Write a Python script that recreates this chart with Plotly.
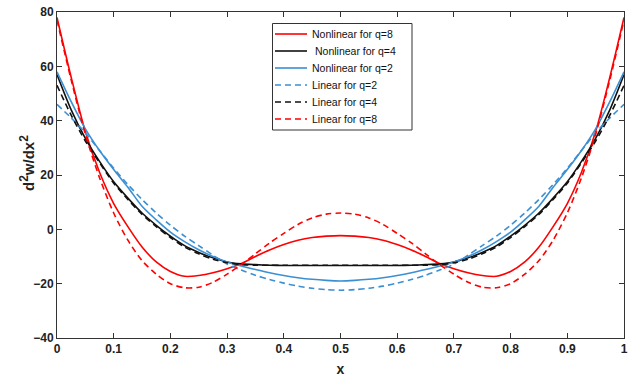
import plotly.graph_objects as go

x = [0, 0.025, 0.05, 0.075, 0.1, 0.125, 0.15, 0.175, 0.2, 0.225, 0.25, 0.275, 0.3, 0.325, 0.35, 0.375, 0.4, 0.425, 0.45, 0.475, 0.5,
     0.525, 0.55, 0.575, 0.6, 0.625, 0.65, 0.675, 0.7, 0.725, 0.75, 0.775, 0.8, 0.825, 0.85, 0.875, 0.9, 0.925, 0.95, 0.975, 1]

nl_q8 = [78, 56, 36, 21, 9.5, 1, -6.5, -12, -15.5, -17.3, -17, -16, -14.5, -12.6, -10, -7.6, -5.6, -4, -3, -2.5, -2.3,
         -2.5, -3, -4, -5.6, -7.6, -10, -12.6, -14.5, -16, -17, -17.3, -15.5, -12, -6.5, 1, 9.5, 21, 36, 56, 78]
nl_q4 = [57, 44, 33.5, 25, 17.5, 11.5, 6, 1.5, -2.5, -6, -8.5, -10.5, -12, -12.7, -13, -13.2, -13.3, -13.3, -13.3, -13.3, -13.3,
         -13.3, -13.3, -13.3, -13.3, -13.2, -13, -12.7, -12, -10.5, -8.5, -6, -2.5, 1.5, 6, 11.5, 17.5, 25, 33.5, 44, 57]
nl_q2 = [58, 47, 37, 29, 22, 15.5, 8.5, 3.5, -1, -4.5, -7.5, -10, -12, -13.5, -14.8, -16, -17, -17.8, -18.4, -18.8, -19,
         -18.8, -18.4, -17.8, -17, -16, -14.8, -13.5, -12, -10, -7.5, -4.5, -1, 3.5, 8.5, 15.5, 22, 29, 37, 47, 58]
l_q2 = [46, 41, 35.5, 29, 22.5, 16.5, 11, 6, 1.5, -2.5, -6, -9.5, -12.8, -15, -16.9, -18.5, -19.8, -20.9, -21.7, -22.2, -22.4,
        -22.2, -21.7, -20.9, -19.8, -18.5, -16.9, -15, -12.8, -9.5, -6, -2.5, 1.5, 6, 11, 16.5, 22.5, 29, 35.5, 41, 46]
l_q4 = [53, 42, 32.5, 24.5, 17, 11, 5.5, 1, -3, -6.5, -9, -11, -12.3, -13, -13.2, -13.2, -13.2, -13.2, -13.2, -13.2, -13.2,
        -13.2, -13.2, -13.2, -13.2, -13.2, -13.2, -13, -12.3, -11, -9, -6.5, -3, 1, 5.5, 11, 17, 24.5, 32.5, 42, 53]
l_q8 = [77, 55, 35, 19, 6, -4, -11.5, -16.5, -20, -21.5, -21.3, -19.5, -16.5, -13, -9, -5, -1.5, 1.8, 4.2, 5.6, 6,
        5.6, 4.2, 1.8, -1.5, -5, -9, -13, -16.5, -19.5, -21.3, -21.5, -20, -16.5, -11.5, -4, 6, 19, 35, 55, 77]

names = ["Nonlinear for q=8", "Nonlinear for q=4", "Nonlinear for q=2",
         "Linear for q=2", "Linear for q=4", "Linear for q=8"]

RED = "#ff0000"
BLACK = "#111111"
BLUE = "#3b8fd3"
DASH = "6px,4px"

series = [
    (names[0], nl_q8, RED, "solid"),
    (names[1], nl_q4, BLACK, "solid"),
    (names[2], nl_q2, BLUE, "solid"),
    (names[3], l_q2, BLUE, DASH),
    (names[4], l_q4, BLACK, DASH),
    (names[5], l_q8, RED, DASH),
]

W, H = 628, 378
ML, MR, MT, MB = 57, 4, 12, 40
PW, PH = W - ML - MR, H - MT - MB
FONT = "Liberation Sans, Arial"


def px2paper_x(px):
    return (px - ML) / PW


def px2paper_y(py):
    return 1 - (py - MT) / PH


fig = go.Figure()
for name, y, c, d in series:
    fig.add_trace(go.Scatter(x=x, y=y, mode="lines", name=name, showlegend=False,
                             line=dict(color=c, width=1.6, dash=d, shape="spline", smoothing=0.8)))

# hand-built legend (matches reference's compact row spacing)
shapes = [dict(type="rect", xref="paper", yref="paper",
               x0=px2paper_x(272.5), x1=px2paper_x(412), y0=px2paper_y(130), y1=px2paper_y(23.5),
               line=dict(color="#333333", width=1), fillcolor="white", layer="above")]
annotations = []
for i, (name, y, c, d) in enumerate(series):
    ry = 34 + 17 * i
    shapes.append(dict(type="line", xref="paper", yref="paper",
                       x0=px2paper_x(275), x1=px2paper_x(307), y0=px2paper_y(ry), y1=px2paper_y(ry),
                       line=dict(color=c, width=1.6, dash=d), layer="above"))
    tx = 313 if i == 1 else 310
    annotations.append(dict(xref="paper", yref="paper", x=px2paper_x(tx), y=px2paper_y(ry),
                            xanchor="left", yanchor="middle", showarrow=False, text=name,
                            font=dict(family=FONT, size=10.5, color="#111111")))

# y-axis title
annotations.append(dict(xref="paper", yref="paper", x=px2paper_x(27), y=px2paper_y(163),
                        xanchor="center", yanchor="middle", showarrow=False, textangle=-90,
                        text="d<sup><span style='font-size:12px'>2</span></sup>w/dx<sup><span style='font-size:12px'>2</span></sup>",
                        font=dict(family=FONT, size=15, color="#222222", weight="bold")))

axis_common = dict(showline=True, mirror="ticks", linecolor="#333333", linewidth=1,
                   ticks="inside", ticklen=5, tickcolor="#333333", showgrid=False, zeroline=False,
                   ticklabeloverflow="allow",
                   tickfont=dict(family=FONT, size=12, color="#222222", weight="bold"))

fig.update_layout(
    width=W, height=H,
    margin=dict(l=ML, r=MR, t=MT, b=MB, autoexpand=False),
    paper_bgcolor="white", plot_bgcolor="white",
    font=dict(family=FONT, color="#222222"),
    xaxis=dict(range=[0, 1], dtick=0.1, tick0=0, automargin=False,
               title=dict(text="x", font=dict(size=14, weight="bold"), standoff=8), **axis_common),
    yaxis=dict(range=[-40, 80], dtick=20, tick0=-40, automargin=False, **axis_common),
    shapes=shapes,
    annotations=annotations,
    showlegend=False,
)

fig.write_html("out.html", config={"displayModeBar": False},
               post_script="document.body.style.margin='0';document.body.style.overflow='hidden';")
